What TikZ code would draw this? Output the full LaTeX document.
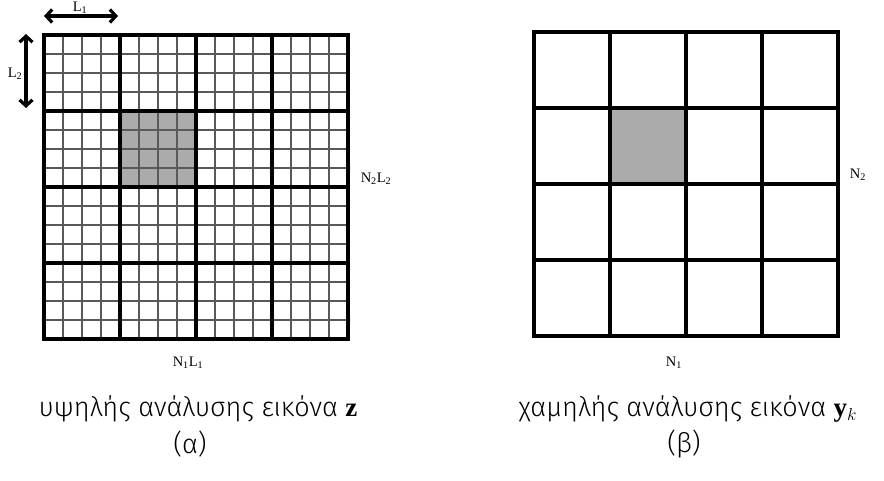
\documentclass[tikz,border=0pt]{standalone}
\usepackage{fontspec}
\setmainfont{Liberation Serif}
\newfontfamily\greekfont{Fira Sans Light}
\usetikzlibrary{arrows.meta}
\begin{document}
\begin{tikzpicture}[x=1pt,y=-1pt,
  finegrid/.style={draw=black!65, line width=1.1pt},
  coarsegrid/.style={draw=black, line width=3.2pt},
  dimarrow/.style={line width=3.2pt, {Straight Barb[length=6pt,width=13pt]}-{Straight Barb[length=6pt,width=13pt]}},
  lbl/.style={font=\fontsize{14.5}{16}\selectfont, inner sep=0pt},
  caption/.style={font=\greekfont\fontsize{27}{31}\selectfont, inner sep=0pt}]
\useasboundingbox (0,0) rectangle (884,480);
% high resolution image z
\fill[black!33] (120,111) rectangle (196,187);
\foreach \i in {1,...,15} {
  \draw[finegrid] (44+19*\i,35) -- (44+19*\i,339);
  \draw[finegrid] (44,35+19*\i) -- (348,35+19*\i);
}
\foreach \i in {1,2,3} {
  \draw[coarsegrid] (44+76*\i,35) -- (44+76*\i,339);
  \draw[coarsegrid] (44,35+76*\i) -- (348,35+76*\i);
}
\draw[coarsegrid, line width=3.6pt] (44,35) rectangle (348,339);
\coordinate (l1a) at (44,16);
\coordinate (l1b) at (118,16);
\coordinate (l2a) at (26,34);
\coordinate (l2b) at (26,108);
\draw[dimarrow] (l1a) -- (l1b);
\draw[dimarrow] (l2a) -- (l2b);
\node[lbl] (l1) at (80,8) {L\textsubscript{1}};
\node[lbl] (l2) at (15,74) {L\textsubscript{2}};
\node[lbl] (n2l2) at (376,179) {N\textsubscript{2}L\textsubscript{2}};
\node[lbl] (n1l1) at (188,363) {N\textsubscript{1}L\textsubscript{1}};
\node[caption] (capa) at (198,409) {υψηλής ανάλυσης εικόνα $\mathbf{z}$};
\node[caption] (suba) at (190,444) {(α)};
% low resolution image y_k
\fill[black!33] (610,108) rectangle (686,184);
\foreach \i in {1,2,3} {
  \draw[coarsegrid] (534+76*\i,32) -- (534+76*\i,336);
  \draw[coarsegrid] (534,32+76*\i) -- (838,32+76*\i);
}
\draw[coarsegrid, line width=3.6pt] (534,32) rectangle (838,336);
\node[lbl] (n2) at (858,175) {N\textsubscript{2}};
\node[lbl] (n1) at (674,363) {N\textsubscript{1}};
\node[caption] (capb) at (688,409) {χαμηλής ανάλυσης εικόνα $\mathbf{y}_k$};
\node[caption] (subb) at (684,444) {(β)};
\end{tikzpicture}
\end{document}
